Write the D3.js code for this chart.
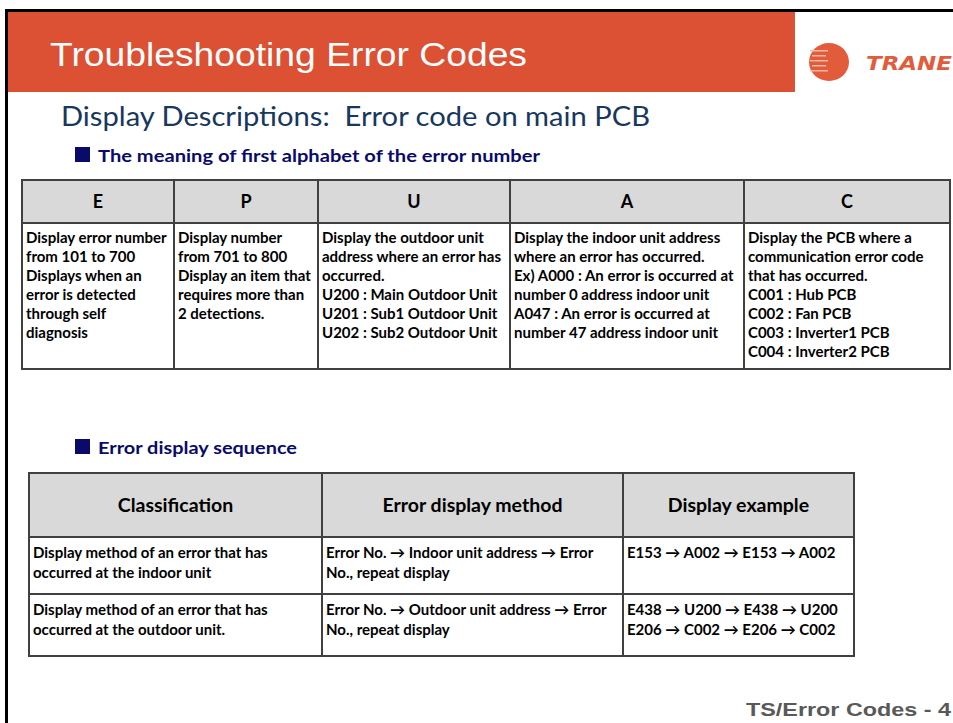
<!DOCTYPE html>
<html><head><meta charset="utf-8">
<script src="https://cdn.jsdelivr.net/npm/d3@7"></script>
<style>body{margin:0;background:#fff;overflow:hidden}</style></head>
<body><svg id="c" width="953" height="723"></svg>
<script>
// ---------- content ----------
const title = "Troubleshooting Error Codes";
const subtitle = "Display Descriptions:  Error code on main PCB";
const section1 = "The meaning of first alphabet of the error number";
const section2 = "Error display sequence";
const footer = "TS/Error Codes - 4";
const logoText = "TRANE";
const letterCodes = ["E","P","U","A","C"];
const letterDescriptions = [
 ["Display error number","from 101 to 700","Displays when an","error is detected","through self","diagnosis"],
 ["Display number","from 701 to 800","Display an item that","requires more than","2 detections."],
 ["Display the outdoor unit","address where an error has","occurred.","U200 : Main Outdoor Unit","U201 : Sub1 Outdoor Unit","U202 : Sub2 Outdoor Unit"],
 ["Display the indoor unit address","where an error has occurred.","Ex) A000 : An error is occurred at","number 0 address indoor unit","A047 : An error is occurred at","number 47 address indoor unit"],
 ["Display the PCB where a","communication error code","that has occurred.","C001 : Hub PCB","C002 : Fan PCB","C003 : Inverter1 PCB","C004 : Inverter2 PCB"]
];
const seqHeaders = ["Classification","Error display method","Display example"];
const seqClassification = [["Display method of an error that has","occurred at the indoor unit"],["Display method of an error that has","occurred at the outdoor unit."]];
const seqMethod = [["Error No. \u2192 Indoor unit address \u2192 Error","No., repeat display"],["Error No. \u2192 Outdoor unit address \u2192 Error","No., repeat display"]];
const seqExample = [["E153 \u2192 A002 \u2192 E153 \u2192 A002"],["E438 \u2192 U200 \u2192 E438 \u2192 U200","E206 \u2192 C002 \u2192 E206 \u2192 C002"]];

// ---------- layout ----------
const svg = d3.select("#c");
const ORANGE = "#DC5034", NAVY = "#0A0A6B", BLUE = "#17375E", LINE = "#404040", HEAD = "#D9D9D9";
const BODYFONT = "Lato, 'Open Sans', sans-serif";
const ARIAL = "'Liberation Sans', Arial, sans-serif";

// frame
svg.append("rect").attr("x",6).attr("y",9).attr("width",947).attr("height",3).attr("fill","#000");
svg.append("rect").attr("x",5).attr("y",9).attr("width",3).attr("height",714).attr("fill","#000");
// header band
svg.append("rect").attr("x",8).attr("y",12).attr("width",787).attr("height",80).attr("fill",ORANGE);
svg.append("text").attr("x",50).attr("y",66).attr("font-family",ARIAL).attr("font-size",34)
  .attr("fill","#fff").attr("textLength",477).attr("lengthAdjust","spacingAndGlyphs").text(title);

// logo
const logo = svg.append("g");
logo.append("ellipse").attr("cx",829).attr("cy",62).attr("rx",20).attr("ry",19).attr("fill","#E25B3A");
[50,55,60,65,70].forEach((yy,i)=>{
  logo.append("rect").attr("x",810+i%2*2).attr("y",yy).attr("width",18-i%2*4).attr("height",1.5).attr("fill","#F4B9A6");
});
logo.append("text").attr("x",866).attr("y",70).attr("font-family","'DejaVu Sans', sans-serif")
  .attr("font-weight","bold").attr("font-style","italic").attr("font-size",19)
  .attr("fill","#E25B3A").attr("textLength",86).attr("lengthAdjust","spacingAndGlyphs").text(logoText);

// subtitle
svg.append("text").attr("x",61).attr("y",126).attr("font-family",BODYFONT).attr("font-size",26)
  .attr("fill",BLUE).style("white-space","pre").attr("textLength",589).attr("lengthAdjust","spacingAndGlyphs").text(subtitle);

// section headings
function section(y, label, w){
  svg.append("rect").attr("x",75).attr("y",y-15).attr("width",15).attr("height",15).attr("fill",NAVY);
  svg.append("text").attr("x",98).attr("y",y).attr("font-family",BODYFONT).attr("font-weight","bold")
    .attr("font-size",17.5).attr("fill",NAVY).attr("textLength",w).attr("lengthAdjust","spacingAndGlyphs").text(label);
}
section(162, section1, 442);
section(454, section2, 199);

// ---------- table 1 ----------
const t1Edges = [22,174,318,510,744,950];
const t1x = d3.scaleOrdinal().domain(letterCodes).range(t1Edges.slice(0,-1));
const t1w = d3.scaleOrdinal().domain(letterCodes).range(t1Edges.slice(1).map((e,i)=>e-t1Edges[i]));
const t1Top = 180, t1HeadBot = 223, t1Bot = 369;
const t1Line = d3.scaleLinear().domain([0,1]).range([243, 262]);

const t1 = svg.append("g");
t1.append("rect").attr("x",t1Edges[0]).attr("y",t1Top).attr("width",t1Edges[5]-t1Edges[0])
  .attr("height",t1HeadBot-t1Top).attr("fill",HEAD);
t1.selectAll("text.h").data(letterCodes).join("text").attr("class","h")
  .attr("x",d=>t1x(d)+t1w(d)/2).attr("y",208).attr("text-anchor","middle")
  .attr("font-family",BODYFONT).attr("font-weight","bold").attr("font-size",18).attr("fill","#000").text(d=>d);
const t1cols = t1.selectAll("g.col").data(letterCodes.map((c,i)=>({c, lines:letterDescriptions[i]}))).join("g").attr("class","col");
t1cols.selectAll("text").data(d=>d.lines.map((l,i)=>({l,i,c:d.c}))).join("text")
  .attr("x",d=>t1x(d.c)+4).attr("y",d=>t1Line(d.i))
  .attr("font-family",BODYFONT).attr("font-weight","bold").attr("font-size",15).attr("fill","#000").text(d=>d.l);
// grid
t1.append("rect").attr("x",t1Edges[0]).attr("y",t1Top).attr("width",t1Edges[5]-t1Edges[0])
  .attr("height",t1Bot-t1Top).attr("fill","none").attr("stroke",LINE).attr("stroke-width",2);
t1.append("line").attr("x1",t1Edges[0]).attr("x2",t1Edges[5]).attr("y1",t1HeadBot).attr("y2",t1HeadBot)
  .attr("stroke",LINE).attr("stroke-width",2);
t1.selectAll("line.v").data(t1Edges.slice(1,-1)).join("line").attr("class","v")
  .attr("x1",d=>d).attr("x2",d=>d).attr("y1",t1Top).attr("y2",t1Bot).attr("stroke",LINE).attr("stroke-width",2);

// ---------- table 2 ----------
const t2Edges = [29,322,623,854];
const t2Rows = [473,537,594,656];
const t2 = svg.append("g");
const rowY = d3.scaleOrdinal().domain([0,1]).range([t2Rows[1], t2Rows[2]]);
const t2Line = d3.scaleLinear().domain([0,1]).range([21, 41]);
t2.append("rect").attr("x",t2Edges[0]).attr("y",t2Rows[0]).attr("width",t2Edges[3]-t2Edges[0])
  .attr("height",t2Rows[1]-t2Rows[0]).attr("fill",HEAD);
t2.selectAll("text.h").data(seqHeaders).join("text").attr("class","h")
  .attr("x",(d,i)=>(t2Edges[i]+t2Edges[i+1])/2).attr("y",512).attr("text-anchor","middle")
  .attr("font-family",BODYFONT).attr("font-weight","bold").attr("font-size",19.5).attr("fill","#000").text(d=>d);
const cells = [];
[seqClassification, seqMethod, seqExample].forEach((col,ci)=>col.forEach((lines,ri)=>lines.forEach((l,li)=>cells.push({ci,ri,li,l}))));
t2.selectAll("text.b").data(cells).join("text").attr("class","b")
  .attr("x",d=>t2Edges[d.ci]+4).attr("y",d=>rowY(d.ri)+t2Line(d.li))
  .attr("font-family",BODYFONT).attr("font-weight","bold").attr("font-size",15).attr("fill","#000").text(d=>d.l);
t2.append("rect").attr("x",t2Edges[0]).attr("y",t2Rows[0]).attr("width",t2Edges[3]-t2Edges[0])
  .attr("height",t2Rows[3]-t2Rows[0]).attr("fill","none").attr("stroke",LINE).attr("stroke-width",2);
t2.selectAll("line.hz").data(t2Rows.slice(1,-1)).join("line").attr("class","hz")
  .attr("x1",t2Edges[0]).attr("x2",t2Edges[3]).attr("y1",d=>d).attr("y2",d=>d).attr("stroke",LINE).attr("stroke-width",2);
t2.selectAll("line.v").data(t2Edges.slice(1,-1)).join("line").attr("class","v")
  .attr("x1",d=>d).attr("x2",d=>d).attr("y1",t2Rows[0]).attr("y2",t2Rows[3]).attr("stroke",LINE).attr("stroke-width",2);

// footer
svg.append("text").attr("x",746).attr("y",716).attr("font-family",ARIAL).attr("font-weight","bold")
  .attr("font-size",19).attr("fill","#595959").attr("textLength",205).attr("lengthAdjust","spacingAndGlyphs").text(footer);
</script></body></html>
